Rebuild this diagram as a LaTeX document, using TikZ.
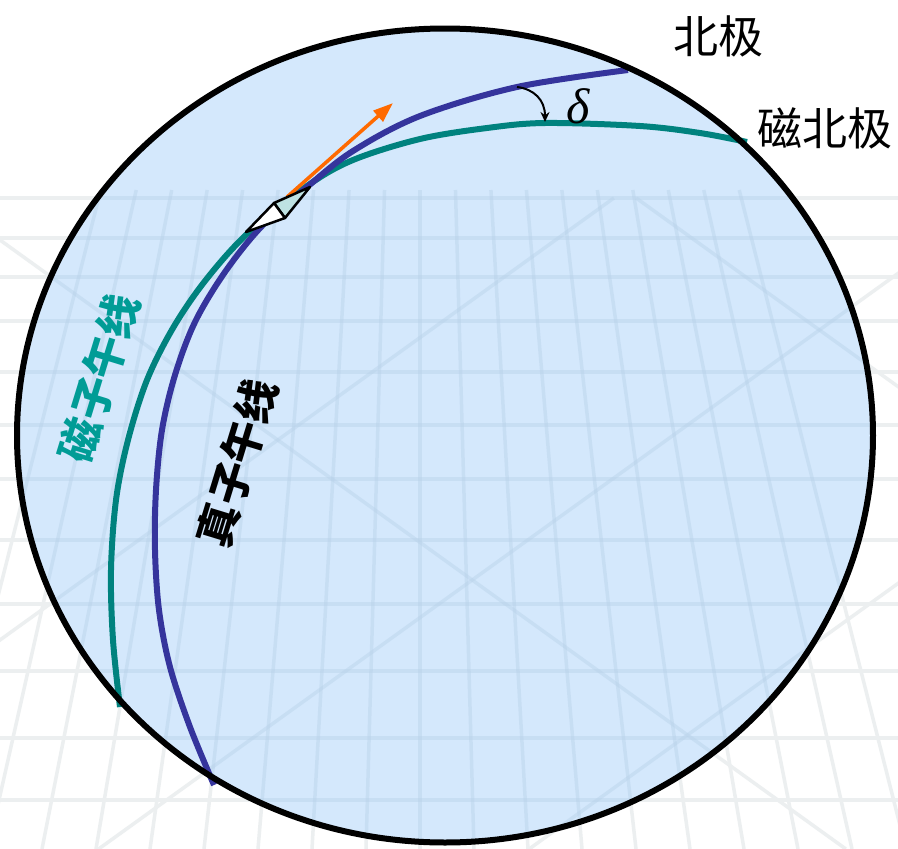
\documentclass[tikz,border=0pt]{standalone}
\usepackage{fontspec}
\newfontfamily\cjk{Noto Sans CJK SC}
\newfontfamily\greekfont{Liberation Serif}
\usetikzlibrary{arrows.meta}

\definecolor{globefill}{HTML}{D4E8FC}
\definecolor{truemer}{HTML}{35349C}
\definecolor{magmer}{HTML}{00827E}
\definecolor{magtext}{HTML}{009C96}
\definecolor{needlefront}{HTML}{BEE2E2}
\definecolor{northarrow}{HTML}{FF6A00}
\definecolor{gridout}{HTML}{ECEFF0}
\definecolor{gridin}{HTML}{B9D2EA}

% perspective floor grid used as backdrop
\newcommand{\floorgrid}{%
  \foreach \k in {-9,...,9}
    \draw ({420+35.47*\k},190) -- ({420+54*\k},849);
  \foreach \yy in {198,238,277,321,372,425,479,540,604,671,738,800}
    \draw (0,\yy) -- (898,\yy);
  % diagonal bracing
  \foreach \c in {-260,240}
    \draw ({(198-\c)/0.72},198) -- ({(849-\c)/0.72},849);
  \foreach \c in {640,920,1230}
    \draw ({(\c-198)/0.72},198) -- ({(\c-849)/0.72},849);
}

\tikzset{
  gridline/.style={line width=3.5pt},
  meridian/.style={line width=6pt, line cap=butt},
  cjklabel/.style={font=\cjk\fontsize{45}{48}\selectfont, inner sep=0pt},
  sidelabel/.style={font=\cjk\bfseries\fontsize{43}{46}\selectfont, inner sep=0pt},
}

\begin{document}
\begin{tikzpicture}[x=1pt,y=-1pt]
\useasboundingbox (0,0) rectangle (898,849);
\fill[white] (0,0) rectangle (898,849);

% backdrop grid outside the globe
\begin{scope}[gridline, draw=gridout]
  \floorgrid
\end{scope}

% the globe
\fill[globefill] (445,435.5) ellipse [x radius=428, y radius=407];
\begin{scope}
  \clip (445,435.5) ellipse [x radius=428, y radius=407];
  \begin{scope}[gridline, draw=gridin, opacity=0.45]
    \floorgrid
  \end{scope}
\end{scope}

% magnetic meridian
\draw[meridian, magmer] plot[smooth, tension=0.55] coordinates {
  (120,707) (113,640) (111,570) (116,500) (128,440) (147,380)
  (173,328) (205,281) (247,234) (307,186) (353,160)
  (420,139) (487,128) (545,123) (640,126) (700,133) (747,142)};

% true meridian
\draw[meridian, truemer] plot[smooth, tension=0.55] coordinates {
  (214,785) (190,727) (170,667) (159,610) (155,550) (156,490)
  (162,430) (175,375) (195,322) (225,272) (262,226) (307,187)
  (353,151) (420,116) (517,87) (628,70)};

% direction of north
\coordinate (arrowstart) at (287,197);
\coordinate (arrowtip) at (393,103);
\draw[northarrow, line width=3.5pt, -{Triangle[length=20pt,width=14pt]}]
  (arrowstart) -- (arrowtip);

% compass needle
\coordinate (tip) at (310,187);
\coordinate (cornerA) at (274,203);
\coordinate (cornerB) at (285,218);
\coordinate (tail) at (246,232);
\filldraw[fill=needlefront, draw=black, line width=2.5pt, line join=round]
  (tip) -- (cornerA) -- (cornerB) -- cycle;
\filldraw[fill=white, draw=black, line width=2.5pt, line join=round]
  (cornerA) -- (tail) -- (cornerB) -- cycle;

% globe outline
\draw[line width=6pt] (445,435.5) ellipse [x radius=428, y radius=407];

% declination angle
\coordinate (decA) at (517,87);
\coordinate (decB) at (545,122);
\draw[line width=2pt, -{Stealth[length=10pt,width=9pt]}]
  (decA) .. controls (534,89) and (545,100) .. (decB);
\node[inner sep=0pt, font=\greekfont\itshape\fontsize{50}{52}\selectfont] (delta) at (578,106) {δ};

% labels
\node[cjklabel] (north) at (718,36) {北极};
\node[cjklabel] (magnorth) at (825,128) {磁北极};
\node[sidelabel, text=magtext, rotate=73] (maglabel) at (99,378) {磁子午线};
\node[sidelabel, text=black, rotate=73] (truelabel) at (237,463) {真子午线};
\end{tikzpicture}
\end{document}
